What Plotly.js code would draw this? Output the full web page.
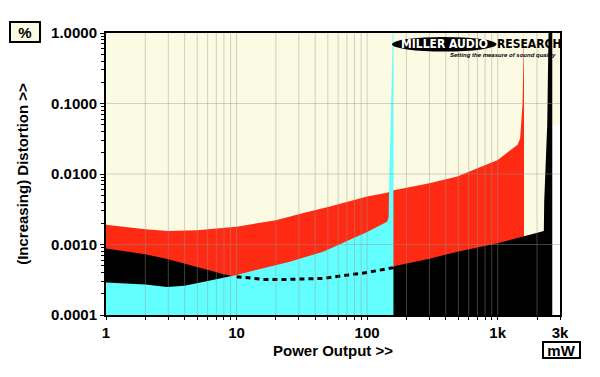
<!DOCTYPE html>
<html>
<head>
<meta charset="utf-8">
<script src="https://cdn.plot.ly/plotly-3.0.1.min.js"></script>
<style>html,body{margin:0;padding:0;background:#fff;}#chart{width:600px;height:377px;}</style>
</head>
<body>
<div id="chart"></div>
<script>
// Power output (mW) and distortion (%)
const redX = [1, 2, 3, 5, 10, 20, 32, 52, 100, 142, 160, 215, 300, 490, 700, 1000, 1420, 1485, 1550, 1590];
const redY = [0.0019, 0.00164, 0.00155, 0.00159, 0.00179, 0.0022, 0.00277, 0.00346, 0.0048, 0.0054, 0.0059, 0.0065, 0.0074, 0.0092, 0.012, 0.0158, 0.026, 0.032, 0.1, 1.0];

const blackX = [1, 2, 3, 5.3, 8, 10, 16, 25, 46, 72, 100, 158, 160, 300, 490, 1000, 1580, 2256, 2270, 2395, 2450, 2617];
const blackY = [0.00088, 0.00073, 0.00062, 0.00046, 0.00038, 0.00035, 0.00032, 0.00032, 0.00033, 0.00037, 0.0004, 0.00047, 0.00049, 0.00063, 0.00079, 0.00104, 0.0013, 0.00155, 0.004, 0.05, 1.0, 1.0];

const cyanX = [1, 2, 2.93, 4, 5.3, 8.1, 10, 16, 25.6, 46, 72, 100, 142, 146, 148, 152, 155, 157, 159];
const cyanY = [0.00029, 0.00027, 0.00025, 0.00026, 0.00029, 0.00034, 0.00037, 0.00046, 0.00057, 0.00079, 0.00115, 0.0015, 0.0021, 0.0024, 0.01, 0.05, 0.3, 1.0, 1.0];

const xTickVals = [1,2,3,4,5,6,7,8,9,10,20,30,40,50,60,70,80,90,100,200,300,400,500,600,700,800,900,1000,2000,3000];
const xLabels = {1:'1', 10:'10', 100:'100', 1000:'1k', 3000:'3k'};
const yTickVals = [0.0001, 0.001, 0.01, 0.1, 1];
const yTickText = ['0.0001', '0.0010', '0.0100', '0.1000', '1.0000'];
const yMinorVals = [];
[0.0001, 0.001, 0.01, 0.1].forEach(d => { for (let k = 2; k <= 9; k++) yMinorVals.push(d * k); });

const BASE = 1e-6;
function area(xs, ys, color, name) {
  return {
    x: xs.concat([xs[xs.length - 1], xs[0]]),
    y: ys.concat([BASE, BASE]),
    type: 'scatter', mode: 'lines', fill: 'toself', fillcolor: color,
    line: {width: 0, color: color}, name: name, hoverinfo: 'skip'
  };
}

// portion of black curve hidden under the cyan area
const dotX = [], dotY = [];
blackX.forEach((v, i) => { if (v >= 10 && v <= 160) { dotX.push(v); dotY.push(blackY[i]); } });

const traces = [
  area(redX, redY, '#ff2a14', 'red'),
  area(blackX, blackY, '#000000', 'black'),
  area(cyanX, cyanY, '#63ffff', 'cyan'),
  {x: dotX, y: dotY, type: 'scatter', mode: 'lines',
   line: {color: '#000', width: 3, dash: '5px,4px'}, hoverinfo: 'skip'}
];

const shapes = [];
// white area right of the black spike
shapes.push({type: 'rect', xref: 'x', yref: 'y', layer: 'below',
  x0: blackX[blackX.length - 1], x1: 3000, y0: 0.0001, y1: 0.05,
  fillcolor: '#ffffff', line: {width: 0}});
// grid lines drawn above the filled areas
xTickVals.forEach(v => {
  if (v > 1 && v < 3000) shapes.push({type: 'line', xref: 'x', yref: 'paper', layer: 'above',
    x0: v, x1: v, y0: 0, y1: 1,
    line: {color: 'rgba(150,150,140,0.42)', width: 1}});
});
[0.001, 0.01, 0.1].forEach(v => shapes.push({type: 'line', xref: 'paper', yref: 'y', layer: 'above',
  x0: 0, x1: 1, y0: v, y1: v,
  line: {color: 'rgba(150,150,140,0.42)', width: 1}}));
// logo ellipse
shapes.push({type: 'circle', xref: 'paper', yref: 'paper', layer: 'above',
  x0: 0.63, x1: 0.86, y0: 0.934, y1: 0.986, fillcolor: '#000', line: {width: 0}});

const tickFont = {family: 'Liberation Sans, Arial, sans-serif', size: 15, color: '#000', weight: 'bold'};
const logoFont = 'DejaVu Sans Condensed, DejaVu Sans, sans-serif';

const layout = {
  width: 600, height: 377,
  margin: {l: 106, r: 40, t: 33, b: 62},
  paper_bgcolor: '#ffffff',
  plot_bgcolor: '#fbfae3',
  showlegend: false,
  xaxis: {
    type: 'log', range: [0, Math.log10(3000)],
    tickmode: 'array', tickvals: xTickVals,
    ticktext: xTickVals.map(v => xLabels[v] || ''),
    ticks: 'outside', ticklen: 3, tickwidth: 1, tickcolor: '#000',
    showgrid: false, zeroline: false,
    showline: true, mirror: true, linecolor: '#000', linewidth: 2,
    tickfont: tickFont,
    title: {text: 'Power Output >>', font: tickFont, standoff: 5}
  },
  yaxis: {
    type: 'log', range: [-4, 0],
    tickmode: 'array', tickvals: yTickVals, ticktext: yTickText,
    ticks: 'outside', ticklen: 4, tickwidth: 1, tickcolor: '#000',
    minor: {tickmode: 'array', tickvals: yMinorVals, ticks: 'outside', ticklen: 3, tickcolor: '#000', showgrid: false},
    showgrid: false, zeroline: false,
    showline: true, mirror: true, linecolor: '#000', linewidth: 2,
    tickfont: tickFont,
    title: {text: '(Increasing) Distortion >>', font: tickFont, standoff: 19}
  },
  shapes: shapes,
  annotations: [
    {xref: 'paper', yref: 'paper', x: 0.746, y: 0.961, xanchor: 'center', yanchor: 'middle', showarrow: false,
     text: 'MILLER AUDIO', font: {family: logoFont, size: 12, color: '#fff', weight: 'bold'}},
    {xref: 'paper', yref: 'paper', x: 0.857, y: 0.961, xanchor: 'left', yanchor: 'middle', showarrow: false,
     text: 'RESEARCH', font: {family: logoFont, size: 12, color: '#000', weight: 'bold'}},
    {xref: 'paper', yref: 'paper', x: 0.995, y: 0.922, xanchor: 'right', yanchor: 'middle', showarrow: false,
     text: '<i>Setting the measure of sound quality</i>', font: {family: 'Liberation Sans Narrow, Liberation Sans', size: 6, color: '#000', weight: 'bold'}},
    {xref: 'paper', yref: 'paper', x: (25 - 106) / 454, y: (315 - 32) / 282, xanchor: 'center', yanchor: 'middle', showarrow: false,
     text: '%', font: tickFont, bgcolor: '#fbfae3', bordercolor: '#000', borderwidth: 2, borderpad: 1, width: 26, height: 16},
    {xref: 'paper', yref: 'paper', x: (561 - 106) / 454, y: (315 - 350) / 282, xanchor: 'center', yanchor: 'middle', showarrow: false,
     text: 'mW', font: tickFont, bgcolor: '#ffffff', bordercolor: '#000', borderwidth: 2, borderpad: 1, width: 33, height: 12}
  ]
};

Plotly.newPlot('chart', traces, layout, {staticPlot: true, displayModeBar: false});
</script>
</body>
</html>
